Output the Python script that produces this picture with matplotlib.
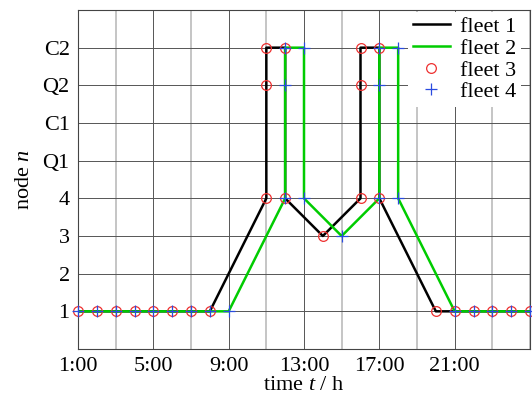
import matplotlib
matplotlib.use("Agg")
import matplotlib.pyplot as plt
from matplotlib.ticker import FixedLocator

# node categories on the vertical axis (bottom to top)
node_labels = ["1", "2", "3", "4", "Q1", "C1", "Q2", "C2"]

# hour ticks
hour_ticks = [1, 5, 9, 13, 17, 21]
hour_tick_labels = ["1:00", "5:00", "9:00", "13:00", "17:00", "21:00"]

# fleet routes: time (h) and node index (1 = node "1", 8 = "C2")
fleet1_t = [1, 2, 3, 4, 5, 6, 7, 8, 11, 11, 11, 12, 12, 14, 16, 16, 16, 17, 17, 20, 21, 22, 23, 24, 25]
fleet1_n = [1, 1, 1, 1, 1, 1, 1, 1, 4, 7, 8, 8, 4, 3, 4, 7, 8, 8, 4, 1, 1, 1, 1, 1, 1]

fleet2_t = [1, 2, 3, 4, 5, 6, 7, 8, 9, 12, 12, 12, 13, 13, 15, 17, 17, 17, 18, 18, 21, 22, 23, 24, 25]
fleet2_n = [1, 1, 1, 1, 1, 1, 1, 1, 1, 4, 7, 8, 8, 4, 3, 4, 7, 8, 8, 4, 1, 1, 1, 1, 1]

fleet3_t = [1, 2, 3, 4, 5, 6, 7, 8, 11, 11, 11, 12, 12, 14, 16, 16, 16, 17, 17, 20, 21, 22, 23, 24, 25]
fleet3_n = [1, 1, 1, 1, 1, 1, 1, 1, 4, 7, 8, 8, 4, 3, 4, 7, 8, 8, 4, 1, 1, 1, 1, 1, 1]

fleet4_t = [1, 2, 3, 4, 5, 6, 7, 8, 9, 12, 12, 12, 13, 13, 15, 17, 17, 17, 18, 18, 21, 22, 23, 24, 25]
fleet4_n = [1, 1, 1, 1, 1, 1, 1, 1, 1, 4, 7, 8, 8, 4, 3, 4, 7, 8, 8, 4, 1, 1, 1, 1, 1]

plt.rcParams["font.family"] = ["Liberation Serif", "DejaVu Serif"]
plt.rcParams["mathtext.fontset"] = "custom"
plt.rcParams["mathtext.it"] = "Liberation Serif:italic"
plt.rcParams["mathtext.rm"] = "Liberation Serif"

fig = plt.figure(figsize=(5.32, 3.99), dpi=100)
ax = fig.add_axes([78 / 532, 1 - 349 / 399, (530 - 78) / 532, (349 - 10) / 399])

ax.set_xlim(1, 25)
ax.set_ylim(0, 9)

# grid: dark major lines, lighter minor lines in between
ax.xaxis.set_major_locator(FixedLocator(hour_ticks))
ax.xaxis.set_minor_locator(FixedLocator([3, 7, 11, 15, 19, 23, 25]))
ax.yaxis.set_major_locator(FixedLocator(list(range(1, len(node_labels) + 1))))
ax.set_xticklabels(hour_tick_labels)
ax.set_yticklabels(node_labels)
ax.grid(which="major", color="#555555", linewidth=0.7)
ax.grid(which="minor", axis="x", color="#bbbbbb", linewidth=1.2)
ax.set_axisbelow(True)
ax.tick_params(which="both", length=0, labelsize=16, pad=6)
for s in ax.spines.values():
    s.set_color("#444444")
    s.set_linewidth(0.8)

ax.plot(fleet1_t, fleet1_n, color="black", linewidth=1.8, label="fleet 1", zorder=3)
ax.plot(fleet2_t, fleet2_n, color="#00cc00", linewidth=1.8, label="fleet 2", zorder=4)
ax.plot(fleet3_t, fleet3_n, linestyle="none", marker="o", markersize=7,
        markerfacecolor="none", markeredgecolor="#ee3030", markeredgewidth=0.9,
        label="fleet 3", zorder=5, clip_on=False)
ax.plot(fleet4_t, fleet4_n, linestyle="none", marker="+", markersize=9,
        markeredgecolor="#2a4be0", markeredgewidth=0.9,
        label="fleet 4", zorder=6, clip_on=False)

ax.set_xlabel("time $t$ / h", fontsize=16, labelpad=0)
ax.set_ylabel("node $n$", fontsize=16, labelpad=6)

leg = ax.legend(loc="upper right", bbox_to_anchor=(0.985, 1.0), fontsize=16,
                frameon=True, fancybox=False,
                facecolor="white", edgecolor="none", framealpha=1,
                borderaxespad=0.1, borderpad=0.2, labelspacing=0.05,
                handlelength=1.7, handletextpad=0.45)
leg.set_zorder(10)

fig.savefig("out.png", dpi=100)
